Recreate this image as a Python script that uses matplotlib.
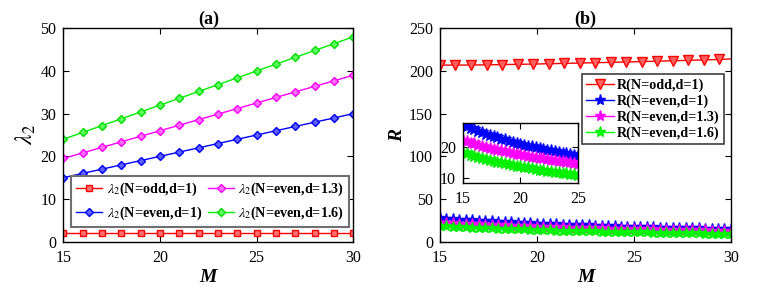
import matplotlib
matplotlib.use('Agg')
import matplotlib.pyplot as plt
import numpy as np

plt.rcParams['font.family'] = ['Liberation Serif', 'DejaVu Serif']
plt.rcParams['mathtext.fontset'] = 'stix'

# panel (a): lambda_2 vs M
M_a = [15, 16, 17, 18, 19, 20, 21, 22, 23, 24, 25, 26, 27, 28, 29, 30]
lam_odd = [2, 2, 2, 2, 2, 2, 2, 2, 2, 2, 2, 2, 2, 2, 2, 2]
lam_even_1 = [15, 16, 17, 18, 19, 20, 21, 22, 23, 24, 25, 26, 27, 28, 29, 30]
lam_even_13 = [19.5, 20.8, 22.1, 23.4, 24.7, 26.0, 27.3, 28.6, 29.9, 31.2, 32.5, 33.8, 35.1, 36.4, 37.7, 39.0]
lam_even_16 = [24.0, 25.6, 27.2, 28.8, 30.4, 32.0, 33.6, 35.2, 36.8, 38.4, 40.0, 41.6, 43.2, 44.8, 46.4, 48.0]

# panel (b): R vs M
M_odd = [15.0, 15.8, 16.6, 17.4, 18.2, 19.0, 19.8, 20.6, 21.4, 22.2,
         23.0, 23.8, 24.6, 25.4, 26.2, 27.0, 27.8, 28.6, 29.4, 30.2]
R_odd = [206.9, 206.9, 207.0, 207.2, 207.5, 207.8, 208.1, 208.5, 208.9, 209.3,
         209.7, 210.1, 210.6, 211.0, 211.5, 212.0, 212.5, 213.0, 213.5, 214.4]

M_even = np.linspace(15, 30, 46)
R_even_1 = [27.4, 26.9, 26.4, 25.9, 25.4, 25.0, 24.5, 24.1, 23.7, 23.3, 22.9, 22.6,
            22.2, 21.9, 21.5, 21.2, 20.9, 20.6, 20.3, 20.0, 19.8, 19.5, 19.2, 19.0,
            18.7, 18.5, 18.3, 18.0, 17.8, 17.6, 17.4, 17.2, 17.0, 16.8, 16.6, 16.4,
            16.2, 16.1, 15.9, 15.7, 15.6, 15.4, 15.2, 15.1, 14.9, 14.8]
R_even_13 = [22.4, 22.0, 21.6, 21.3, 20.9, 20.6, 20.2, 19.9, 19.6, 19.3, 19.0, 18.7,
             18.5, 18.2, 17.9, 17.7, 17.5, 17.2, 17.0, 16.8, 16.6, 16.4, 16.2, 16.0,
             15.8, 15.6, 15.4, 15.2, 15.1, 14.9, 14.7, 14.6, 14.4, 14.3, 14.1, 14.0,
             13.8, 13.7, 13.6, 13.4, 13.3, 13.2, 13.1, 12.9, 12.8, 12.7]
R_even_16 = [18.4, 18.0, 17.6, 17.3, 16.9, 16.6, 16.2, 15.9, 15.6, 15.3, 15.1, 14.8,
             14.5, 14.3, 14.0, 13.8, 13.6, 13.4, 13.1, 12.9, 12.7, 12.5, 12.4, 12.2,
             12.0, 11.8, 11.7, 11.5, 11.3, 11.2, 11.0, 10.9, 10.8, 10.6, 10.5, 10.4,
             10.2, 10.1, 10.0, 9.9, 9.7, 9.6, 9.5, 9.4, 9.3, 9.2]

fig = plt.figure(figsize=(7.57, 2.97), dpi=100)
ax1 = fig.add_axes([0.0836, 0.1862, 0.3831, 0.7185])
ax2 = fig.add_axes([0.5812, 0.1862, 0.3844, 0.7185])


def style(ax, fs=11.5):
    ax.tick_params(direction='in', top=True, right=True, labelsize=fs, length=4, width=0.8)
    ax.tick_params(axis='x', pad=6)
    ax.tick_params(axis='y', pad=5)
    for s in ax.spines.values():
        s.set_linewidth(1.0)


# (a)
ax1.plot(M_a, lam_odd, '-s', color='red', mfc='#ff7070', mec='red', ms=5, lw=1,
         label=r'$\lambda_2$(N=odd,d=1)')
ax1.plot(M_a, lam_even_1, '-D', color='blue', mfc='#6060ff', mec='blue', ms=4.5, lw=1,
         label=r'$\lambda_2$(N=even,d=1)')
ax1.plot(M_a, lam_even_13, '-D', color='magenta', mfc='#ff70ff', mec='magenta', ms=4.5, lw=1,
         label=r'$\lambda_2$(N=even,d=1.3)')
ax1.plot(M_a, lam_even_16, '-D', color='#00ee00', mfc='#60ff60', mec='#00dd00', ms=4.5, lw=1,
         label=r'$\lambda_2$(N=even,d=1.6)')
ax1.set_xlim(15, 30)
ax1.set_ylim(0, 50)
ax1.set_xticks([15, 20, 25, 30])
ax1.set_yticks([0, 10, 20, 30, 40, 50])
style(ax1)
ax1.set_title('(a)', fontsize=13, fontweight='bold', pad=3)
ax1.set_xlabel('M', fontsize=14, fontweight='bold', style='italic', labelpad=2)
ax1.set_ylabel(r'$\lambda_2$', fontsize=17, labelpad=2)
leg1 = ax1.legend(ncol=2, loc='lower center', bbox_to_anchor=(0.506, 0.069),
                  borderaxespad=0,
                  prop={'weight': 'bold', 'size': 10.2}, fancybox=False,
                  edgecolor='#707070', framealpha=1, handlelength=1.85,
                  handletextpad=0.3, columnspacing=0.4, borderpad=0.35,
                  labelspacing=0.45)
leg1.get_frame().set_linewidth(1.5)

# (b)
ax2.plot(M_odd, R_odd, '-v', color='red', mfc='#ff6060', mec='red', ms=7, lw=1,
         markevery=slice(0, 19), label='R(N=odd,d=1)')
ax2.plot(M_even, R_even_1, '-*', color='blue', mfc='blue', mec='blue', ms=8, lw=1,
         label='R(N=even,d=1)')
ax2.plot(M_even, R_even_13, '-*', color='magenta', mfc='magenta', mec='magenta', ms=8, lw=1,
         label='R(N=even,d=1.3)')
ax2.plot(M_even, R_even_16, '-*', color='#00ff00', mfc='#00ff00', mec='#00ee00', ms=8, lw=1,
         label='R(N=even,d=1.6)')
ax2.set_xlim(15, 30)
ax2.set_ylim(0, 250)
ax2.set_xticks([15, 20, 25, 30])
ax2.set_yticks([0, 50, 100, 150, 200, 250])
style(ax2)
ax2.set_title('(b)', fontsize=13, fontweight='bold', pad=3)
ax2.set_xlabel('M', fontsize=14, fontweight='bold', style='italic', labelpad=2)
ax2.set_ylabel('R', fontsize=14, fontweight='bold', style='italic', labelpad=2)
leg2 = ax2.legend(loc='upper right', bbox_to_anchor=(0.976, 0.786), borderaxespad=0,
                  prop={'weight': 'bold', 'size': 10.2}, fancybox=False,
                  edgecolor='#404040', framealpha=1, handlelength=2.0,
                  handletextpad=0.2, borderpad=0.3, labelspacing=0.18)
leg2.get_frame().set_linewidth(1.2)

# inset
axin = fig.add_axes([0.6116, 0.3838, 0.1519, 0.2020])
axin.plot(M_even, R_even_1, '-*', color='blue', ms=9, lw=1)
axin.plot(M_even, R_even_13, '-*', color='magenta', ms=9, lw=1)
axin.plot(M_even, R_even_16, '-*', color='#00ff00', mec='#00ee00', ms=9, lw=1)
axin.set_xlim(15, 25)
axin.set_ylim(8.3, 28)
axin.set_xticks([15, 20, 25])
axin.set_yticks([10, 20])
style(axin)

fig.savefig('out.png', dpi=100)
